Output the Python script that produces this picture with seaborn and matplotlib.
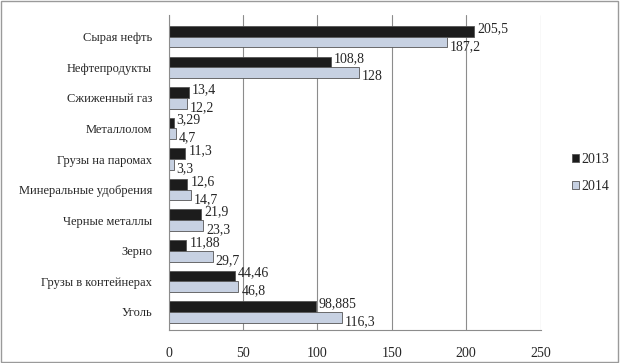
import pandas as pd
import numpy as np
import matplotlib.pyplot as plt
import seaborn as sns
from matplotlib.patches import Rectangle

categories = ['Сырая нефть', 'Нефтепродукты', 'Сжиженный газ', 'Металлолом',
              'Грузы на паромах', 'Минеральные удобрения', 'Черные металлы',
              'Зерно', 'Грузы в контейнерах', 'Уголь']
values_2013 = [205.5, 108.8, 13.4, 3.29, 11.3, 12.6, 21.9, 11.88, 44.46, 98.885]
values_2014 = [187.2, 128, 12.2, 4.7, 3.3, 14.7, 23.3, 29.7, 46.8, 116.3]
labels_2013 = ['205,5', '108,8', '13,4', '3,29', '11,3', '12,6', '21,9', '11,88', '44,46', '98,885']
labels_2014 = ['187,2', '128', '12,2', '4,7', '3,3', '14,7', '23,3', '29,7', '46,8', '116,3']

df = pd.DataFrame({'Груз': categories * 2,
                   'Год': ['2013'] * len(categories) + ['2014'] * len(categories),
                   'Значение': values_2013 + values_2014})

sns.set_style('white')
plt.rcParams['font.family'] = ['Liberation Serif', 'DejaVu Serif']

fig = plt.figure(figsize=(6.2, 3.63), dpi=100)
ax = fig.add_axes([0.272, 0.09, 0.6, 0.868])

sns.barplot(data=df, y='Груз', x='Значение', hue='Год', orient='h',
            palette={'2013': '#1c1c1c', '2014': '#c3d0e6'}, width=0.7,
            edgecolor='#555555', linewidth=0.6, ax=ax)

# value labels
for cont, labs, dy in zip(ax.containers, [labels_2013, labels_2014], [-0.1, 0.14]):
    for bar, lab in zip(cont, labs):
        y = bar.get_y() + bar.get_height() / 2
        ax.text(bar.get_width() + 2, y + dy, lab, fontsize=10, va='center', ha='left')

ax.set_xlim(0, 250)
ax.set_xticks([0, 50, 100, 150, 200, 250])
ax.set_ylim(9.6, -0.7)
ax.grid(axis='x', color='#8c8c8c', linewidth=0.8)
ax.set_axisbelow(True)
ax.set_xlabel('')
ax.set_ylabel('')
ax.tick_params(axis='y', labelsize=9, length=0, pad=12)
ax.tick_params(axis='x', labelsize=10, length=0, pad=12)
for s in ['top', 'right']:
    ax.spines[s].set_visible(False)
for s in ['left', 'bottom']:
    ax.spines[s].set_color('#8c8c8c')

ax.legend(loc='center left', bbox_to_anchor=(1.05, 0.5), frameon=False,
          fontsize=10, handlelength=0.5, handleheight=0.5, handletextpad=0.2,
          labelspacing=1.0)

fig.patches.append(Rectangle((0.002, 0.003), 0.995, 0.993, transform=fig.transFigure,
                             fill=False, edgecolor='#9a9a9a', linewidth=1))

plt.savefig('out.png', dpi=100)
